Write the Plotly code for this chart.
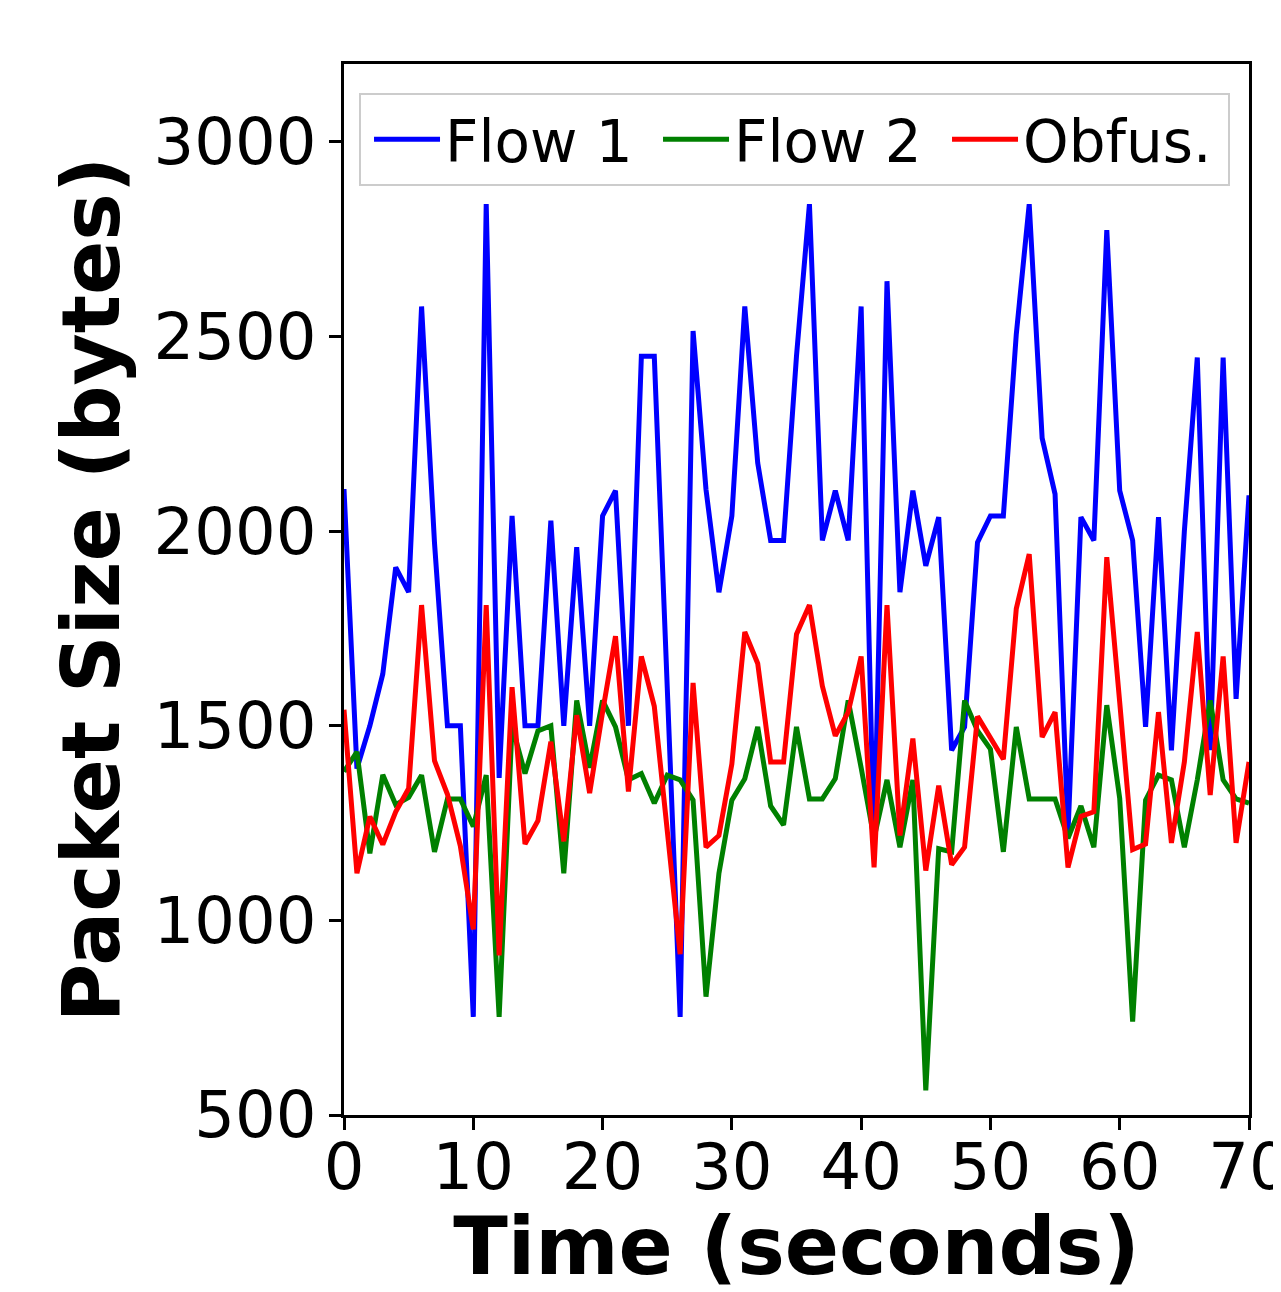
import plotly.graph_objects as go

time_s = list(range(71))

flow1 = [2108, 1390, 1500, 1633, 1907, 1843, 2577, 1970, 1500, 1500, 752,
         2840, 1366, 2039, 1500, 1500, 2027, 1500, 1959, 1500, 2039, 2104, 1500, 2449, 2449,
         1600, 752, 2514, 2107, 1843, 2039, 2577, 2175, 1976, 1976, 2450, 2840,
         1976, 2104, 1976, 2577, 1180, 2642, 1843, 2104, 1911, 2036, 1437, 1497,
         1971, 2039, 2039, 2506, 2840, 2239, 2095, 1226, 2036, 1976, 2773, 2104,
         1976, 1497, 2036, 1437, 2000, 2446, 1437, 2446, 1569, 2092]

flow2 = [1382, 1433, 1172, 1374, 1297, 1316, 1373, 1176, 1312, 1312, 1241,
         1373, 752, 1500, 1377, 1487, 1500, 1121, 1565, 1392, 1565, 1497, 1361, 1377, 1301,
         1373, 1361, 1309, 804, 1121, 1309, 1364, 1497, 1294, 1245, 1497, 1312,
         1312, 1364, 1565, 1392, 1211, 1361, 1188, 1361, 563, 1184, 1176, 1565,
         1487, 1440, 1176, 1497, 1312, 1312, 1312, 1211, 1294, 1188, 1553, 1313,
         740, 1309, 1373, 1361, 1188, 1361, 1565, 1361, 1312, 1301]

obfus = [1541, 1121, 1267, 1195, 1279, 1339, 1810, 1410, 1324, 1191, 977,
         1810, 910, 1599, 1196, 1256, 1459, 1203, 1527, 1327, 1535, 1730, 1331, 1678, 1550,
         1241, 913, 1610, 1188, 1218, 1402, 1741, 1660, 1407, 1407, 1735, 1810,
         1602, 1474, 1535, 1678, 1136, 1810, 1218, 1467, 1128, 1346, 1143, 1188,
         1524, 1470, 1414, 1801, 1941, 1471, 1535, 1136, 1267, 1279, 1933, 1560,
         1182, 1196, 1535, 1199, 1407, 1741, 1322, 1678, 1199, 1407]

series_names = ["Flow 1", "Flow 2", "Obfus."]
series_colors = ["#0000ff", "#008000", "#ff0000"]

x_ticks = [0, 10, 20, 30, 40, 50, 60, 70]
y_ticks = [500, 1000, 1500, 2000, 2500, 3000]

FONT = "DejaVu Sans"

fig = go.Figure()
for name, vals, col in zip(series_names, [flow1, flow2, obfus], series_colors):
    fig.add_trace(go.Scatter(x=time_s, y=vals, mode="lines", name=name,
                             line=dict(color=col, width=5)))

axis_common = dict(showgrid=False, zeroline=False, showline=True, linecolor="black",
                   linewidth=2.5, mirror=True, ticks="outside", ticklen=12, tickwidth=2.5,
                   tickcolor="black", automargin=False, ticklabeloverflow="allow",
                   tickfont=dict(family=FONT, size=64, color="black"))

fig.update_layout(
    width=1274, height=1285,
    margin=dict(l=336, r=33, t=56, b=178),
    plot_bgcolor="white", paper_bgcolor="white",
    font=dict(family=FONT, color="black"),
    xaxis=dict(range=[0, 70], tickvals=x_ticks,
               title=dict(text="Time (seconds)", standoff=14,
                          font=dict(family=FONT, size=80, weight="bold", color="black")),
               **axis_common),
    yaxis=dict(range=[500, 3200], tickvals=y_ticks,
               title=dict(text="Packet Size (bytes)", standoff=8,
                          font=dict(family=FONT, size=80, weight="bold", color="black")),
               **axis_common),
    legend=dict(orientation="h", x=0.0166, y=0.9724, xanchor="left", yanchor="top",
                bgcolor="white", bordercolor="#cccccc", borderwidth=2,
                font=dict(family=FONT, size=58, color="black"),
                indentation=8,
                itemwidth=66, entrywidth=200, entrywidthmode="pixels"),
    showlegend=True,
)
fig.update_xaxes(ticklabelstandoff=-18)

fig.write_html("out.html")
